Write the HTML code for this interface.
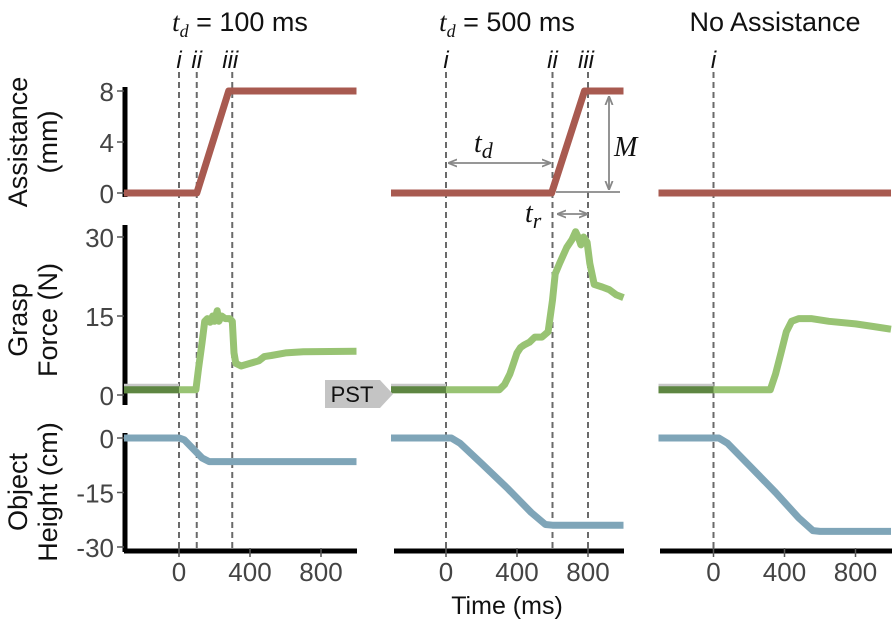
<!DOCTYPE html>
<html><head><meta charset="utf-8"><style>
body{margin:0;background:#fff}
svg{display:block;font-family:"Liberation Sans",sans-serif}
</style></head><body>
<svg id="c" width="896" height="623" viewBox="0 0 896 623"></svg>
<script>
const timeTicks=[0,400,800];
const assistTicks=[0,4,8];
const graspTicks=[0,15,30];
const heightTicks=[0,-15,-30];
const panelTitles=["100 ms","500 ms","No Assistance"];
const eventTimes=[[0,100,300],[0,600,800],[0]];
const eventLabels=["i","ii","iii"];
const assist1=[[-310,0],[100,0],[280,8],[1000,8]];
const assist2=[[-310,0],[595,0],[780,8],[1000,8]];
const assist3=[[-310,0],[1000,0]];
const grasp1=[[-310,1],[95,1],[110,5],[130,10],[145,14],[160,14.5],[175,13.8],[190,15],[200,14],[215,16],[225,14],[240,15],[260,14.5],[285,14.5],[300,14],[310,8],[320,6],[350,5.5],[400,6],[450,6.5],[480,7.3],[520,7.5],[600,8],[700,8.2],[1000,8.3]];
const grasp2=[[-310,1],[300,1],[330,2],[360,4],[380,6],[400,8],[420,9],[440,9.5],[470,10],[500,11],[540,11],[575,12],[600,18],[615,23],[640,25],[680,28],[710,29.5],[730,31],[745,30],[760,28.5],[775,30],[795,29],[810,25],[835,21],[880,20.5],[920,20],[960,19],[1000,18.5]];
const grasp3=[[-310,1],[320,1],[350,4],[380,8],[410,12],[440,14],[480,14.5],[550,14.5],[650,14],[800,13.5],[900,13],[1000,12.5]];
const height1=[[-310,0],[0,0],[30,-0.5],[80,-3],[130,-5.5],[170,-6.5],[1000,-6.5]];
const height2=[[-310,0],[30,0],[80,-1.5],[200,-7],[350,-14],[480,-20.5],[560,-23.8],[600,-24],[1000,-24]];
const height3=[[-310,0],[30,0],[80,-1.5],[200,-7.5],[350,-15],[480,-22],[560,-25.5],[600,-25.7],[1000,-25.7]];
const assistData=[assist1,assist2,assist3],graspData=[grasp1,grasp2,grasp3],heightData=[height1,height2,height3];

const svg=document.getElementById('c');
const NS='http://www.w3.org/2000/svg';
function mk(tag,at,txt){const e=document.createElementNS(NS,tag);for(const k in at)e.setAttribute(k,at[k]);if(txt!=null)e.textContent=txt;svg.appendChild(e);return e;}
const colX0=[179,446,713.5],colL=[124,394,660],colR=[357,624,892];
const K=0.1775;
function xs(c,ms){return colX0[c]+ms*K;}
function ya(v){return 193-v*12.75;}
function yg(v){return 395-v*5.267;}
function yh(v){return 438-v*3.633;}
function pts(c,arr,f){return arr.map(p=>xs(c,p[0]).toFixed(1)+','+f(p[1]).toFixed(1)).join(' ');}

const defs=mk('defs',{});
defs.innerHTML='<marker id="ah" viewBox="0 0 10 10" refX="9" refY="5" markerWidth="5" markerHeight="5" orient="auto-start-reverse"><path d="M0,1 L10,5 L0,9" fill="none" stroke="#888" stroke-width="2"/></marker>';

// titles
for(let c=0;c<3;c++){
  const cx=[240,507,775][c];
  let t;
  if(c<2){t=mk('text',{x:cx,y:31,'font-size':27,'text-anchor':'middle',fill:'#111'});
    t.innerHTML='<tspan font-family="Liberation Serif" font-style="italic">t</tspan><tspan font-family="Liberation Serif" font-style="italic" font-size="18" dy="6">d</tspan><tspan dy="-6"> = '+panelTitles[c]+'</tspan>';}
  else t=mk('text',{x:cx,y:31,'font-size':27,'text-anchor':'middle',fill:'#111'},panelTitles[c]);
  
  
}
// y axis labels
[['Assistance','(mm)',142],['Grasp','Force (N)',320],['Object','Height (cm)',492]].forEach((l,i)=>{
  const g=mk('text',{transform:`translate(27,${l[2]}) rotate(-90)`,'font-size':27,'text-anchor':'middle',fill:'#111'});
  g.innerHTML=`<tspan x="0" dy="0">${l[0]}</tspan><tspan x="0" dy="30">${l[1]}</tspan>`;
  
  
});
// y axes
[[87,197,assistTicks,ya],[225,405,graspTicks,yg],[433,552,heightTicks,yh]].forEach((a,i)=>{
  const ax=mk('line',{x1:125,x2:125,y1:a[0],y2:a[1],stroke:'#000','stroke-width':5});
  
  
  a[2].forEach(v=>{
    mk('line',{x1:117,x2:124,y1:a[3](v),y2:a[3](v),stroke:'#555','stroke-width':1.5});
    const t=mk('text',{x:114,y:a[3](v)+10,'font-size':26,'text-anchor':'end',fill:'#444'},v);
    
    
  });
});
// x axes
for(let c=0;c<3;c++){
  const ax=mk('line',{x1:colL[c],x2:colR[c],y1:551,y2:551,stroke:'#000','stroke-width':5});
  
  
  timeTicks.forEach(v=>{
    mk('line',{x1:xs(c,v),x2:xs(c,v),y1:548,y2:557,stroke:'#555','stroke-width':1.5});
    const t=mk('text',{x:xs(c,v),y:581,'font-size':26,'text-anchor':'middle',fill:'#444'},v);
    
    
  });
  eventTimes[c].forEach((v,i)=>{
    const d=mk('line',{x1:xs(c,v),x2:xs(c,v),y1:72,y2:551,stroke:'#6a6a6a','stroke-width':2,'stroke-dasharray':'6,4'});
    
    
    const t=mk('text',{x:xs(c,v)+(i==2?-2:0),y:68,'font-size':24,'font-style':'italic','text-anchor':'middle',fill:'#111'},eventLabels[i]);
    
    
  });
}
const xt=mk('text',{x:507,y:614,'font-size':25,'text-anchor':'middle',fill:'#111'},'Time (ms)');



// series
for(let c=0;c<3;c++){
  const a=mk('polyline',{points:pts(c,assistData[c],ya),fill:'none',stroke:'#a85a50','stroke-width':7,'stroke-linejoin':'round'});
  
  
  const g=mk('polyline',{points:pts(c,graspData[c],yg),fill:'none',stroke:'#98c373','stroke-width':7,'stroke-linejoin':'round'});
  
  
  const pre=graspData[c].filter(p=>p[0]<=0);pre.push([0,pre[pre.length-1][1]]);
  mk('polyline',{points:pts(c,pre,v=>yg(v)-4),fill:'none',stroke:'#c8c8c8','stroke-width':4});
  const p=mk('polyline',{points:pts(c,pre,yg),fill:'none',stroke:'#5e8642','stroke-width':7});
  
  
  const h=mk('polyline',{points:pts(c,heightData[c],yh),fill:'none',stroke:'#7fa5b8','stroke-width':7,'stroke-linejoin':'round'});
  
  
}
// PST tag
const pst=mk('path',{d:'M325,380 H380 L393,394 L380,408 H325 Z',fill:'#c4c4c4'});


const pt=mk('text',{x:352,y:402,'font-size':22,'text-anchor':'middle',fill:'#111'},'PST');



// annotations
function arrow(x1,y1,x2,y2,name){
  const l=mk('line',{x1,y1,x2,y2,stroke:'#888','stroke-width':1.8,'marker-start':'url(#ah)','marker-end':'url(#ah)'});
  
  
}
arrow(449,163,550,163,'td-arrow');
arrow(609,97,609,189,'m-arrow');
arrow(558,214,587,214,'tr-arrow');
mk('line',{x1:556,x2:620,y1:192,y2:192,stroke:'#888','stroke-width':1.8});
let t=mk('text',{x:474,y:152,'font-size':28,'font-family':'Liberation Serif','font-style':'italic',fill:'#111'});
t.innerHTML='t<tspan font-size="22" dy="6">d</tspan>';

t=mk('text',{x:614,y:156,'font-size':28,'font-family':'Liberation Serif','font-style':'italic',fill:'#111'},'M');

t=mk('text',{x:525,y:222,'font-size':28,'font-family':'Liberation Serif','font-style':'italic',fill:'#111'});
t.innerHTML='t<tspan font-size="22" dy="6">r</tspan>';

</script>
</body></html>
